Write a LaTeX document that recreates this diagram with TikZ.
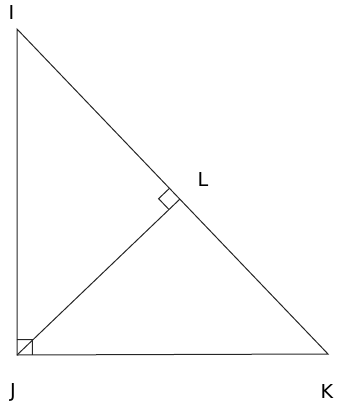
\documentclass[tikz,border=0pt]{standalone}
\usepackage{fontspec}
\setmainfont{DejaVu Sans}
\usetikzlibrary{calc}
\begin{document}
\begin{tikzpicture}[x=0.75pt,y=-0.75pt,
  edge/.style={draw=black!85,line width=0.75pt,line join=miter},
  rmark/.style={draw=black!85,line width=0.75pt},
  lab/.style={inner sep=0pt,anchor=base,font=\fontsize{14.4}{17}\selectfont,text=black}]
\useasboundingbox (0,0) rectangle (337,410);
\coordinate (I) at (17,29);
\coordinate (J) at (17,355);
\coordinate (K) at (328,354);
\coordinate (L) at ($(I)!(J)!(K)$);
\draw[edge] (I) -- (J) -- (K) -- cycle;
\draw[edge] (J) -- (L);
% right angle at J
\draw[rmark] ($(J)!11.5pt!(I)$) -- ($($(J)!11.5pt!(I)$)+($(J)!11.5pt!(K)$)-(J)$) -- ($(J)!11.5pt!(K)$);
% right angle at L
\draw[rmark] ($(L)!11.25pt!(I)$) -- ($($(L)!11.25pt!(I)$)+($(L)!11.25pt!(J)$)-(L)$) -- ($(L)!11.25pt!(J)$);
\node[lab] (lI) at (11.5,20) {I};
\node[lab] (lJ) at (13,397) {J};
\node[lab] (lK) at (327,398) {K};
\node[lab] (lL) at (203,186) {L};
\end{tikzpicture}
\end{document}
